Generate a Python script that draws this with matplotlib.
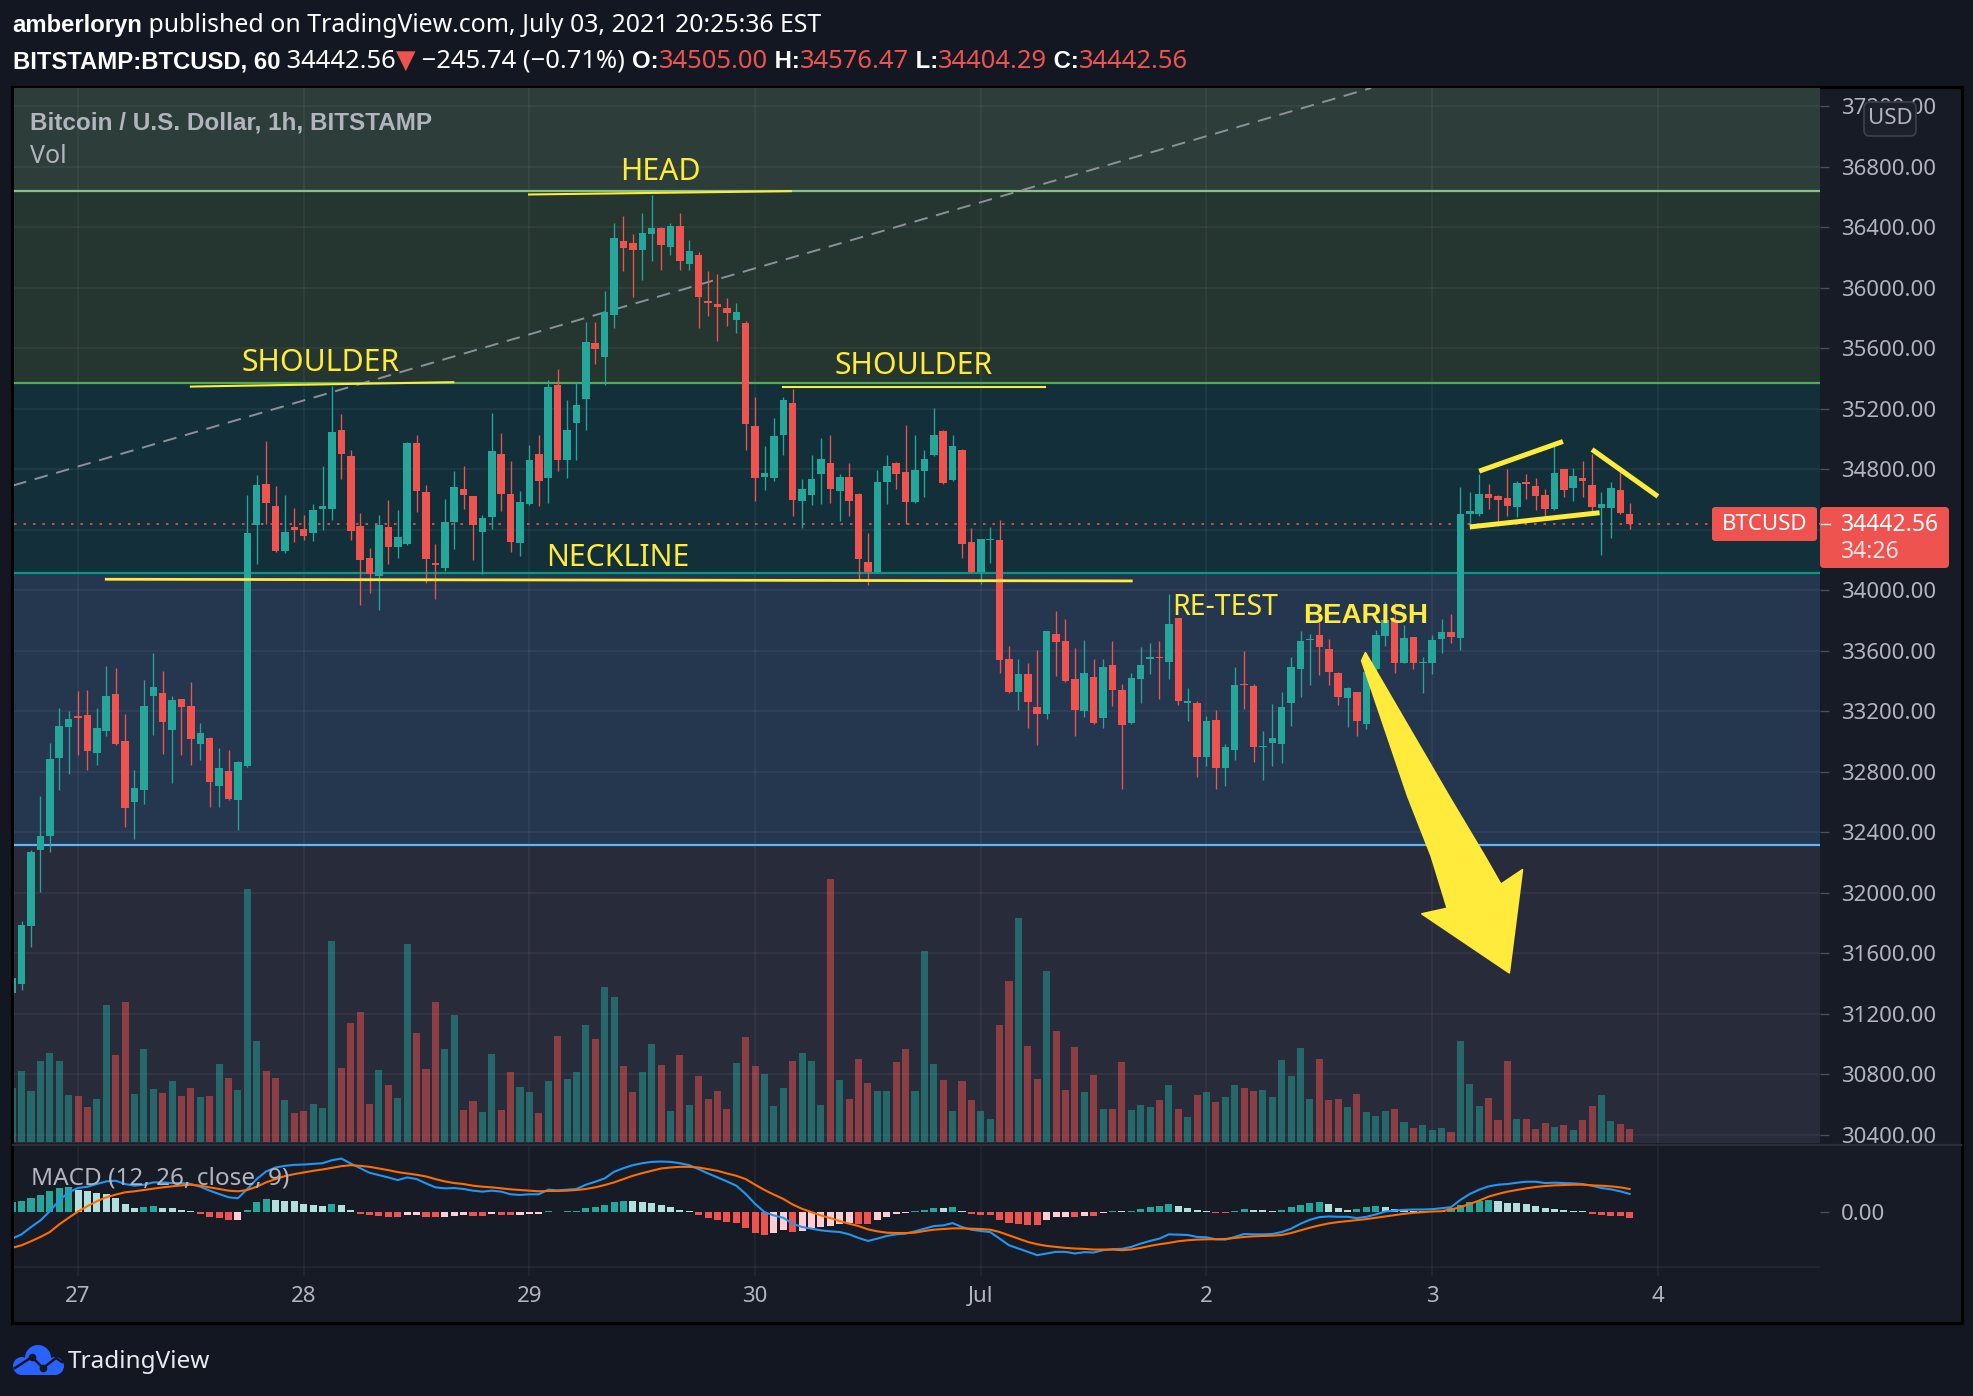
import numpy as np
import matplotlib
matplotlib.use("Agg")
import matplotlib.pyplot as plt
from matplotlib.patches import Polygon, Rectangle, Circle, FancyBboxPatch

plt.rcParams['font.family'] = ['Noto Sans', 'DejaVu Sans']
BOLD_FAMILY = ['Liberation Sans', 'DejaVu Sans']

# ---------------- DATA ----------------
# hourly candles, x = hours since 27 Jun 2021 00:00 (chart time)
hours = list(range(-7, 166))

opens = [31340, 31396, 31782, 32284, 32377, 32893, 33097,
         33170, 33175, 32926, 33071, 33313, 33003, 32602, 32681, 33300, 33320,
         33078, 33280, 33234, 32985, 33022, 32707, 32804, 32615, 32840, 34435,
         34706, 34556, 34261, 34420, 34408, 34380, 34540, 34541, 35064, 34886,
         34424, 34215, 34096, 34417, 34288, 34307, 34978, 34653, 34180, 34149,
         34452, 34673, 34622, 34386, 34486, 34899, 34640, 34314, 34573, 34899,
         34743, 35361, 34864, 35106, 35264, 35636, 35542, 35819, 36312, 36294,
         36252, 36358, 36395, 36274, 36408, 36158, 36219, 35915, 35894, 35867,
         35790, 35770, 35088, 34750, 34741, 35025, 35242, 34591, 34629, 34769,
         34840, 34657, 34747, 34635, 34186, 34120, 34716, 34846, 34780, 34585,
         34789, 34895, 35051, 34730, 34926, 34318, 34120, 34335, 34332, 33546,
         33328, 33447, 33229, 33185, 33711, 33665, 33414, 33205, 33427, 33159,
         33507, 33341, 33126, 33414, 33550, 33560, 33528, 33817, 33254, 33256,
         32901, 33143, 32829, 32948, 33380, 33368, 32965, 32994, 32987, 33256,
         33482, 33670, 33705, 33612, 33454, 33291, 33328, 33119, 33482, 33700,
         33803, 33522, 33691, 33518, 33522, 33681, 33724, 33687, 34507, 34507,
         34635, 34626, 34611, 34551, 34716, 34688, 34628, 34538, 34800, 34679,
         34745, 34694, 34545, 34545, 34666, 34505.00]

highs = [31540, 31812, 32282, 32639, 32990, 33221, 33201,
         33333, 33340, 33221, 33499, 33485, 33181, 32811, 33406, 33585, 33466,
         33300, 33285, 33393, 33122, 33030, 32956, 32943, 32870, 34633, 34765,
         34985, 34688, 34633, 34545, 34497, 34570, 34820, 35355, 35168, 34930,
         34512, 34279, 34497, 34596, 34530, 34980, 35029, 34695, 34310, 34606,
         34793, 34824, 34625, 34497, 35174, 35038, 34853, 34655, 34963, 35025,
         35394, 35465, 35262, 35377, 35777, 35777, 35982, 36430, 36477, 36356,
         36494, 36615, 36400, 36428, 36494, 36316, 36239, 36113, 36091, 35933,
         35900, 35780, 35282, 34952, 35137, 35282, 35335, 34734, 34893, 35005,
         35025, 34767, 34840, 34644, 34378, 34794, 34893, 34850, 35097, 35031,
         34926, 35209, 35064, 35031, 34932, 34411, 34340, 34417, 34464, 33632,
         33546, 33520, 33606, 33731, 33863, 33810, 33619, 33672, 33546, 33546,
         33665, 33381, 33454, 33625, 33652, 33665, 33975, 33820, 33355, 33271,
         33172, 33209, 32985, 33494, 33599, 33381, 33071, 33249, 33328, 33560,
         33731, 33711, 33790, 33678, 33460, 33361, 33330, 33528, 33738, 33922,
         33915, 33771, 33695, 33559, 33705, 33810, 33843, 34681, 34648, 34771,
         34701, 34630, 34805, 34721, 34771, 34741, 34668, 34952, 34805, 34811,
         34859, 34903, 34650, 34716, 34793, 34576.47]

lows = [31310, 31359, 31643, 32006, 32271, 32681, 32787,
        32912, 32813, 32846, 33038, 32980, 32436, 32357, 32588, 33043, 32919,
        32727, 32912, 32846, 32880, 32568, 32568, 32615, 32416, 32830, 34178,
        34442, 34255, 34250, 34318, 34331, 34330, 34400, 34464, 34738, 34332,
        33907, 33980, 33870, 34173, 34215, 34300, 34518, 34052, 33946, 34129,
        34277, 34541, 34204, 34111, 34408, 34525, 34255, 34228, 34563, 34558,
        34578, 34789, 34745, 34864, 35062, 35498, 35359, 35733, 36109, 35938,
        36054, 36175, 36120, 36215, 36120, 36116, 35733, 35812, 35647, 35750,
        35700, 34930, 34591, 34662, 34723, 34893, 34492, 34415, 34563, 34569,
        34576, 34457, 34492, 34061, 34035, 34115, 34569, 34670, 34437, 34580,
        34618, 34890, 34705, 34725, 34215, 34115, 34041, 34180, 33454, 33320,
        33210, 33093, 32979, 33148, 33436, 33395, 33038, 33166, 33120, 33093,
        33238, 32690, 33120, 33258, 33447, 33282, 33416, 33245, 33139, 32770,
        32842, 32690, 32710, 32880, 33218, 32866, 32750, 32842, 32862, 33106,
        33298, 33377, 33443, 33377, 33245, 33100, 33040, 33084, 33410, 33634,
        33456, 33520, 33482, 33324, 33449, 33588, 33652, 33605, 34408, 34492,
        34541, 34428, 34490, 34485, 34606, 34530, 34475, 34535, 34618, 34591,
        34618, 34496, 34235, 34345, 34507, 34404.29]

closes = [31440, 31786, 32269, 32375, 32884, 33102, 33148,
          33158, 32939, 33089, 33300, 32985, 32562, 32692, 33234, 33360, 33131,
          33274, 33230, 33018, 33056, 32734, 32824, 32621, 32864, 34382, 34694,
          34578, 34261, 34384, 34398, 34358, 34530, 34560, 35047, 34904, 34393,
          34200, 34111, 34433, 34288, 34351, 34978, 34657, 34208, 34170, 34450,
          34684, 34631, 34435, 34481, 34925, 34640, 34321, 34582, 34860, 34723,
          35344, 34860, 35062, 35229, 35645, 35594, 35839, 36329, 36261, 36252,
          36364, 36395, 36283, 36408, 36175, 36243, 35938, 35898, 35872, 35834,
          35840, 35102, 34743, 34778, 35018, 35262, 34596, 34668, 34734, 34866,
          34670, 34747, 34591, 34206, 34123, 34714, 34826, 34767, 34585, 34794,
          34866, 35031, 34710, 34952, 34307, 34120, 34338, 34340, 33540, 33328,
          33447, 33265, 33185, 33731, 33658, 33401, 33209, 33454, 33124, 33493,
          33341, 33110, 33421, 33506, 33555, 33553, 33777, 33271, 33269, 32901,
          33139, 32829, 32968, 33375, 33375, 32968, 32972, 33025, 33227, 33493,
          33665, 33680, 33625, 33463, 33298, 33355, 33139, 33463, 33705, 33803,
          33522, 33685, 33522, 33522, 33672, 33724, 33694, 34507, 34523, 34635,
          34611, 34600, 34556, 34710, 34705, 34622, 34538, 34774, 34666, 34754,
          34727, 34551, 34573, 34679, 34514, 34442.56]

volume = [160, 212, 152, 242, 266, 242, 140,
          137, 104, 128, 410, 260, 419, 143, 278, 158, 146,
          182, 137, 161, 134, 137, 233, 191, 155, 758, 302,
          212, 191, 125, 86, 92, 113, 101, 602, 221, 356,
          389, 113, 215, 170, 131, 593, 326, 218, 419, 278,
          380, 95, 122, 89, 263, 95, 209, 164, 149, 86,
          182, 317, 188, 209, 350, 308, 464, 434, 227, 149,
          209, 293, 230, 92, 260, 110, 197, 128, 152, 98,
          236, 314, 227, 203, 107, 161, 242, 266, 242, 110,
          788, 185, 128, 248, 176, 152, 152, 239, 278, 152,
          572, 233, 185, 92, 182, 125, 92, 68, 350, 482,
          671, 287, 188, 512, 332, 155, 284, 149, 200, 98,
          98, 239, 95, 110, 104, 125, 170, 98, 74, 140,
          149, 119, 134, 170, 161, 152, 155, 134, 245, 197,
          281, 128, 248, 125, 128, 104, 143, 89, 77, 92,
          98, 59, 41, 50, 35, 41, 29, 302, 173, 107,
          131, 65, 242, 68, 68, 38, 56, 44, 50, 35,
          65, 107, 140, 62, 53, 38]

macd_line = [-80, -67, -45, -25, 3, 35, 60,
             73, 77, 85, 93, 95, 85, 80, 83, 90, 90,
             88, 88, 85, 77, 65, 55, 45, 42, 70, 100,
             123, 135, 140, 143, 144, 146, 148, 157, 162, 147,
             133, 119, 112, 105, 97, 105, 100, 87, 75, 72,
             73, 70, 65, 62, 65, 62, 54, 52, 54, 54,
             68, 66, 68, 70, 83, 92, 102, 122, 133, 142,
             148, 152, 153, 152, 148, 142, 130, 117, 105, 93,
             80, 55, 25, 0, -10, -17, -35, -45, -50, -55,
             -58, -60, -67, -78, -87, -80, -72, -67, -65, -58,
             -50, -42, -40, -33, -45, -53, -57, -60, -80, -100,
             -110, -120, -130, -125, -120, -120, -125, -121, -122, -115,
             -112, -111, -105, -95, -87, -80, -67, -68, -69, -75,
             -76, -82, -83, -75, -66, -67, -67, -66, -60, -50,
             -35, -23, -15, -13, -14, -14, -18, -14, -7, 2,
             5, 7, 8, 8, 9, 12, 15, 37, 55, 68,
             78, 83, 85, 89, 92, 92, 88, 89, 88, 87,
             85, 80, 73, 69, 63, 55]

signal_line = [-108, -100, -88, -75, -60, -37, -17,
               2, 18, 33, 45, 53, 60, 63, 67, 71, 75,
               78, 81, 83, 80, 75, 70, 65, 63, 67, 77,
               90, 100, 109, 115, 120, 125, 129, 134, 139, 142,
               140, 137, 132, 127, 121, 117, 113, 108, 100, 93,
               88, 85, 80, 77, 75, 72, 69, 67, 65, 63,
               64, 64, 65, 67, 70, 75, 82, 90, 100, 110,
               118, 125, 132, 135, 137, 137, 135, 130, 125, 117,
               110, 100, 83, 67, 53, 40, 23, 10, 0, -10,
               -18, -27, -35, -42, -52, -58, -62, -63, -63, -62,
               -57, -53, -51, -49, -49, -50, -51, -53, -60, -70,
               -80, -90, -97, -102, -105, -108, -110, -111, -113, -113,
               -113, -115, -113, -108, -102, -97, -93, -88, -85, -83,
               -82, -82, -81, -78, -75, -73, -72, -71, -69, -63,
               -55, -47, -40, -34, -30, -27, -24, -21, -17, -13,
               -9, -5, -2, 0, 2, 3, 8, 15, 25, 35,
               47, 55, 62, 67, 72, 76, 79, 81, 82, 83,
               83, 81, 80, 78, 75, 70]

macd_hist = [30, 33, 44, 53, 65, 74, 77,
             68, 65, 59, 56, 44, 26, 14, 17, 20, 14,
             13, 8, 3, -5, -15, -18, -25, -24, 8, 32,
             41, 38, 35, 33, 26, 23, 20, 24, 23, 8,
             -5, -10, -12, -14, -15, -9, -8, -14, -16, -15,
             -12, -10, -12, -13, -7, -8, -10, -9, -6, -5,
             2, 1, 3, 5, 13, 17, 23, 32, 35, 34,
             32, 29, 23, 17, 8, 3, -9, -18, -25, -30,
             -33, -49, -63, -70, -63, -55, -60, -57, -49, -45,
             -42, -35, -33, -36, -37, -24, -15, -7, -3, 3,
             8, 14, 13, 17, 5, -7, -8, -9, -24, -33,
             -36, -39, -40, -25, -16, -15, -16, -12, -13, -3,
             3, 2, 5, 11, 17, 20, 26, 20, 14, 6,
             5, -3, -4, 5, 11, 8, 6, 5, 8, 17,
             23, 29, 30, 26, 14, 8, 11, 17, 20, 17,
             11, 8, 5, 4, 3, 2, 14, 23, 32, 35,
             38, 35, 29, 28, 26, 20, 12, 11, 8, 5,
             3, -7, -8, -11, -13, -18]

day_ticks = [0, 24, 48, 72, 96, 120, 144, 168]
day_labels = ['27', '28', '29', '30', 'Jul', '2', '3', '4']
price_ticks = [30400, 30800, 31200, 31600, 32000, 32400, 32800, 33200, 33600,
               34000, 34400, 34800, 35200, 35600, 36000, 36400, 36800, 37200]
hidden_tick = 34400          # covered by the last-price label on the chart
last_price = 34442.56

# drawn zones (price levels) and their colours
zone_edges = [37322, 36642, 35374, 34116, 32315, 30347]
zone_fill = ['#2d3d3a', '#25352f', '#13303a', '#25364f', '#282b39']
zone_line_levels = [36642, 35374, 34116, 32315]
zone_line_colors = ['#81c784', '#4caf50', '#089981', '#64b5f6']

# hand-drawn annotations (x in hours, y in USD)
head_x, head_y = [47.96, 75.8], [36618, 36640]
shoulder_l_x, shoulder_l_y = [12.0, 39.9], [35348, 35377]
shoulder_r_x, shoulder_r_y = [75.0, 102.8], [35345, 35345]
neck_x, neck_y = [3.0, 112.0], [34074, 34063]
trend_x, trend_y = [-6.9, 137.5], [34694, 37322]
wedge_up_x, wedge_up_y = [149.0, 157.9], [34789, 34985]
wedge_lo_x, wedge_lo_y = [148.0, 161.8], [34420, 34514]
wedge_dn_x, wedge_dn_y = [161.0, 168.0], [34932, 34622]
arrow_x = [136.5, 136.9, 145.8, 149.6, 151.3, 153.6, 152.2, 142.9, 145.6, 143.9, 141.4]
arrow_y = [33536, 33589, 32639, 32243, 32058, 32154, 31472, 31862, 31899, 32243, 32639]
notes = [('HEAD', 61.9, 36714, 21.8, False),
         ('SHOULDER', 25.8, 35454, 21.8, False),
         ('SHOULDER', 88.9, 35434, 21.8, False),
         ('NECKLINE', 57.4, 34160, 21.8, False),
         ('RE-TEST', 121.97, 33837, 20.5, False),
         ('BEARISH', 136.96, 33784, 20.0, True)]

# ---------------- STYLE ----------------
UP, DN = '#26a69a', '#ef5350'
YEL = '#ffeb3b'
TXT = '#b2b5be'
W, H = 1974, 1396
XL = (-6.81, 185.24)
PY = (30347, 37322)

fig = plt.figure(figsize=(W / 100, H / 100), dpi=100)
fig.patch.set_facecolor('#131722')

# pixel overlay behind everything (chart frame)
back = fig.add_axes([0, 0, 1, 1], zorder=-5)
back.set_xlim(0, W); back.set_ylim(H, 0); back.axis('off')
back.add_patch(Rectangle((12, 87), 1950, 1236, facecolor='#171b26',
                         edgecolor='#000000', lw=2.3))

rect_price = [14 / W, 1 - 1143 / H, 1806 / W, 1055 / H]
bg = fig.add_axes(rect_price)
axv = fig.add_axes(rect_price)
ax = fig.add_axes(rect_price)
axm = fig.add_axes([14 / W, 1 - 1276 / H, 1806 / W, 130 / H])

for a in (bg, axv, ax, axm):
    for s in a.spines.values():
        s.set_visible(False)
    a.set_xlim(*XL)
axv.patch.set_visible(False)
ax.patch.set_visible(False)

# background zones + grid
bg.set_ylim(*PY)
for i, c in enumerate(zone_fill):
    bg.axhspan(zone_edges[i + 1], zone_edges[i], color=c, lw=0, zorder=0)
for p in price_ticks:
    bg.axhline(p, color='#ffffff', alpha=0.06, lw=1.1, zorder=1)
for d in day_ticks:
    bg.axvline(d, color='#ffffff', alpha=0.06, lw=1.1, zorder=1)
for lv, c in zip(zone_line_levels, zone_line_colors):
    bg.axhline(lv, color=c, lw=1.6, zorder=2)
bg.set_xticks([]); bg.set_yticks([])

# volume
o = np.array(opens); c_ = np.array(closes)
up = c_ >= o
colors = np.where(up, UP, DN)
axv.bar(hours, volume, width=0.75, color=colors, alpha=0.5, lw=0)
axv.set_ylim(-4, 3161)
axv.set_xticks([]); axv.set_yticks([])

# candles
ax.vlines(hours, lows, highs, colors=colors, lw=0.95, zorder=3)
body_lo = np.minimum(o, c_)
body_h = np.maximum(np.abs(c_ - o), 7)
ax.bar(hours, body_h, bottom=body_lo, width=0.8, color=colors, lw=0, zorder=4)

# annotations
ax.plot(trend_x, trend_y, color='#8d9099', lw=1.4, linestyle=(0, (7, 4.5)), zorder=2)
ax.axhline(last_price, color=DN, lw=1.2, linestyle=(0, (1.5, 4.2)), zorder=2)
ax.plot(head_x, head_y, color=YEL, lw=1.5, zorder=5)
ax.plot(shoulder_l_x, shoulder_l_y, color=YEL, lw=1.5, zorder=5)
ax.plot(shoulder_r_x, shoulder_r_y, color=YEL, lw=1.5, zorder=5)
ax.plot(neck_x, neck_y, color=YEL, lw=2.0, zorder=5)
for wx, wy in ((wedge_up_x, wedge_up_y), (wedge_lo_x, wedge_lo_y), (wedge_dn_x, wedge_dn_y)):
    ax.plot(wx, wy, color=YEL, lw=3.6, solid_capstyle='butt', zorder=6)
ax.add_patch(Polygon(np.column_stack([arrow_x, arrow_y]), closed=True,
                     facecolor=YEL, edgecolor=YEL, lw=1.2, joinstyle='round', zorder=7))
for s, x, y, fs, bold in notes:
    if bold:
        ax.text(x, y, s, color=YEL, fontsize=fs, fontweight='bold', family=BOLD_FAMILY,
                ha='center', va='baseline', zorder=8)
    else:
        ax.text(x, y, s, color=YEL, fontsize=fs, ha='center', va='baseline', zorder=8)

ax.set_ylim(*PY)
ax.yaxis.tick_right()
ax.set_yticks(price_ticks)
ax.set_yticklabels(['' if p == hidden_tick else f'{p:.2f}' for p in price_ticks])
ax.tick_params(axis='y', length=6.5, width=1, color='#4a4e59', pad=8.5,
               labelsize=16, labelcolor=TXT)
ax.tick_params(axis='x', bottom=False, labelbottom=False)
ax.set_ylim(*PY)

# MACD pane
axm.set_facecolor('#171b26')
axm.set_ylim(-193, 200)
axm.axhline(-165, color='#ffffff', alpha=0.06, lw=1.1, zorder=0)
for d in day_ticks:
    axm.axvline(d, color='#ffffff', alpha=0.06, lw=1.1, zorder=0)
hist_colors = []
prev = None
for v in macd_hist:
    if v >= 0:
        hist_colors.append('#26a69a' if (prev is None or v > prev) else '#b2dfdb')
    else:
        hist_colors.append('#ef5350' if (prev is None or v < prev) else '#ffcdd2')
    prev = v
axm.bar(hours, macd_hist, width=0.75, color=hist_colors, lw=0, zorder=2)
axm.plot(hours, macd_line, color='#2196f3', lw=1.5, zorder=3)
axm.plot(hours, signal_line, color='#ff6d00', lw=1.5, zorder=3)
axm.yaxis.tick_right()
axm.set_yticks([0])
axm.set_yticklabels(['0.00'])
axm.tick_params(axis='y', length=6.5, width=1, color='#4a4e59', pad=8.5,
                labelsize=16, labelcolor=TXT)
axm.set_xticks(day_ticks)
axm.set_xticklabels(day_labels)
axm.tick_params(axis='x', length=0, pad=7, labelsize=16, labelcolor=TXT)
axm.set_xlim(*XL)
axm.set_ylim(-193, 200)

# ---------------- pixel overlay (texts & labels) ----------------
ov = fig.add_axes([0, 0, 1, 1], zorder=10)
ov.set_xlim(0, W); ov.set_ylim(H, 0); ov.axis('off')
ov.patch.set_visible(False)

ov.plot([13, 1961], [1144.5, 1144.5], color='#2a2e39', lw=1.6)

renderer = fig.canvas.get_renderer()


def seq(x, y, pieces):
    for s, col, bold, fs in pieces:
        if bold:
            t = ov.text(x, y, s, color=col, fontsize=fs, fontweight='bold', family=BOLD_FAMILY,
                        ha='left', va='baseline')
        else:
            t = ov.text(x, y, s, color=col, fontsize=fs, ha='left', va='baseline')
        bb = t.get_window_extent(renderer=renderer)
        x = bb.x1
    return x


WH = '#ffffff'
RG, BD = 17.9, 17.2
seq(12.6, 32.0, [('amberloryn', WH, True, BD),
                 (' published on TradingView.com, July 03, 2021 20:25:36 EST', WH, False, RG)])
seq(12.6, 68.0, [('BITSTAMP:BTCUSD, 60', WH, True, BD), (' 34442.56', WH, False, 18.4),
                 ('\u25BC', DN, False, 18.4), (' \u2212245.74 (\u22120.71%) ', WH, False, 18.4),
                 ('O:', WH, True, BD), ('34505.00', DN, False, 18.4),
                 (' H:', WH, True, BD), ('34576.47', DN, False, 18.4),
                 (' L:', WH, True, BD), ('34404.29', DN, False, 18.4),
                 (' C:', WH, True, BD), ('34442.56', DN, False, 18.4)])

ov.text(30, 129.3, 'Bitcoin / U.S. Dollar, 1h, BITSTAMP', color=TXT, fontsize=17.5,
        fontweight='bold', family=BOLD_FAMILY, ha='left', va='baseline')
ov.text(30, 163.3, 'Vol', color=TXT, fontsize=18, ha='left', va='baseline')
ov.text(31, 1185, 'MACD (12, 26, close, 9)', color=TXT, fontsize=17.5, ha='left', va='baseline')

# USD box
ov.add_patch(FancyBboxPatch((1864, 102), 52, 34, boxstyle='round,pad=0,rounding_size=6',
                            facecolor='#1c202b', edgecolor='#3a3e4a', lw=1.3))
ov.text(1890, 119, 'USD', color=TXT, fontsize=16, ha='center', va='center')

# last price labels
ov.add_patch(FancyBboxPatch((1712, 507), 105, 34, boxstyle='round,pad=0,rounding_size=3',
                            facecolor=DN, edgecolor='none'))
ov.text(1764.5, 524.5, 'BTCUSD', color=WH, fontsize=16, ha='center', va='center')
ov.add_patch(FancyBboxPatch((1820, 507), 129, 61, boxstyle='round,pad=0,rounding_size=4',
                            facecolor=DN, edgecolor='none'))
ov.plot([1821, 1830], [524, 524], color=WH, lw=1)
ov.text(1841, 525, '34442.56', color=WH, fontsize=16.5, ha='left', va='center')
ov.text(1841, 552, '34:26', color='#fde3e3', fontsize=16.5, ha='left', va='center')

# TradingView logo
LOGO = '#2962ff'
for (cx, cy, r) in ((22, 1366, 9), (38, 1358, 13), (55, 1366, 9)):
    ov.add_patch(Circle((cx, cy), r, facecolor=LOGO, edgecolor='none'))
ov.add_patch(Rectangle((22, 1362), 33, 13, facecolor=LOGO, edgecolor='none'))
ov.plot([15, 32, 43, 56, 62], [1368, 1357, 1368, 1358, 1362], color='#131722', lw=1.8,
        solid_joinstyle='round')
ov.plot([32, 43], [1357, 1368], 'o', color='#131722', ms=4.5)
ov.text(68, 1368.3, 'TradingView', color='#e8eaf0', fontsize=17.5, ha='left', va='baseline')

fig.savefig('out.png', dpi=100, facecolor=fig.get_facecolor())
